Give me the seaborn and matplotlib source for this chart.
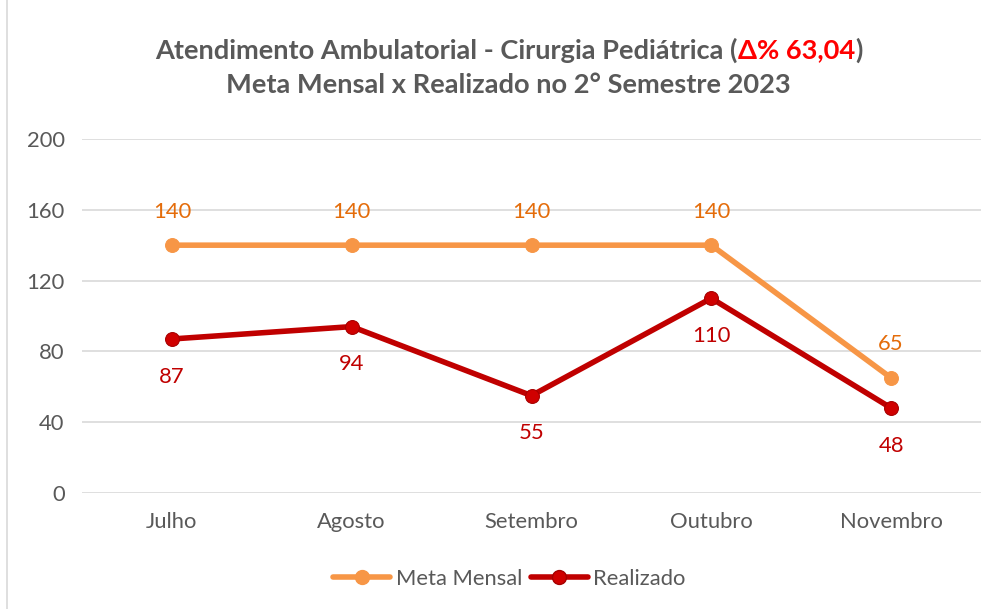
import matplotlib
matplotlib.use('Agg')
import matplotlib.pyplot as plt
import seaborn as sns
import pandas as pd
from matplotlib.lines import Line2D

# Data
months = ['Julho', 'Agosto', 'Setembro', 'Outubro', 'Novembro']
meta = [140, 140, 140, 140, 65]
realizado = [87, 94, 55, 110, 48]

sns.set_theme(style='white')
plt.rcParams['font.family'] = ['Lato', 'DejaVu Sans']

orange = '#F79646'
orange_txt = '#E46C0A'
red = '#C00000'
gray_txt = '#595959'

df = pd.DataFrame({'Mes': months, 'Meta Mensal': meta, 'Realizado': realizado})
df['x'] = range(len(months))

fig = plt.figure(figsize=(9.97, 6.09), dpi=100)
ax = fig.add_axes([0.0822, 0.1905, 0.9018, 0.5813])

sns.lineplot(data=df, x='x', y='Meta Mensal', ax=ax, color=orange, linewidth=4,
             marker='o', markersize=10, markeredgecolor=orange, zorder=3)
sns.lineplot(data=df, x='x', y='Realizado', ax=ax, color=red, linewidth=4,
             marker='o', markersize=10, markeredgecolor='#A50000', markerfacecolor='#D00000', zorder=4)

for i, v in enumerate(meta):
    ax.annotate(str(v), (i, v), xytext=(0, 17), textcoords='offset points',
                ha='center', va='bottom', fontsize=15.8, color=orange_txt)
for i, v in enumerate(realizado):
    ax.annotate(str(v), (i, v), xytext=(0, -20), textcoords='offset points',
                ha='center', va='top', fontsize=15.8, color=red)

ax.set_xlim(-0.5, len(months) - 0.5)
ax.set_ylim(0, 200)
ax.set_yticks(range(0, 201, 40))
ax.set_xticks(range(len(months)))
ax.set_xticklabels(months)
ax.set_xlabel('')
ax.set_ylabel('')
ax.grid(axis='y', color='#D9D9D9', linewidth=1.2)
ax.grid(axis='x', visible=False)
for s in ax.spines.values():
    s.set_visible(False)
ax.tick_params(axis='both', length=0, labelsize=15.8, colors=gray_txt)
ax.tick_params(axis='x', pad=14)
ax.tick_params(axis='y', pad=12.5)

# Title: two lines, part of the first one in red
fig.canvas.draw()
renderer = fig.canvas.get_renderer()
parts = [('Atendimento Ambulatorial - Cirurgia Pediátrica (', gray_txt),
         ('Δ% 63,04', '#FF0000'),
         (')', gray_txt)]
texts = []
for s, c in parts:
    t = fig.text(0, 0, s, fontsize=19.6, fontweight='bold', color=c, va='center', ha='left')
    texts.append(t)
widths = [t.get_window_extent(renderer).width for t in texts]
total = sum(widths)
x0 = (509 - total / 2)
for t, w in zip(texts, widths):
    t.set_position((x0 / 997, 1 - 50 / 609))
    x0 += w
fig.text(508 / 997, 1 - 85 / 609, 'Meta Mensal x Realizado no 2° Semestre 2023',
         fontsize=19.6, fontweight='bold', color=gray_txt, ha='center', va='center')

handles = [Line2D([], [], color=orange, linewidth=4, marker='o', markersize=10),
           Line2D([], [], color=red, linewidth=4, marker='o', markersize=10,
                  markerfacecolor='#D00000', markeredgecolor='#A50000')]
fig.legend(handles, ['Meta Mensal', 'Realizado'], loc='center', bbox_to_anchor=(0.511, 1 - 579 / 609),
           ncol=2, frameon=False, fontsize=15.8, handlelength=2.6, columnspacing=0.4,
           handletextpad=0.25, labelcolor=gray_txt)

# chart border on the left
fig.add_artist(Line2D([7 / 997, 7 / 997], [0, 1], color='#D9D9D9', linewidth=1.2))

fig.savefig('out.png', dpi=100)
